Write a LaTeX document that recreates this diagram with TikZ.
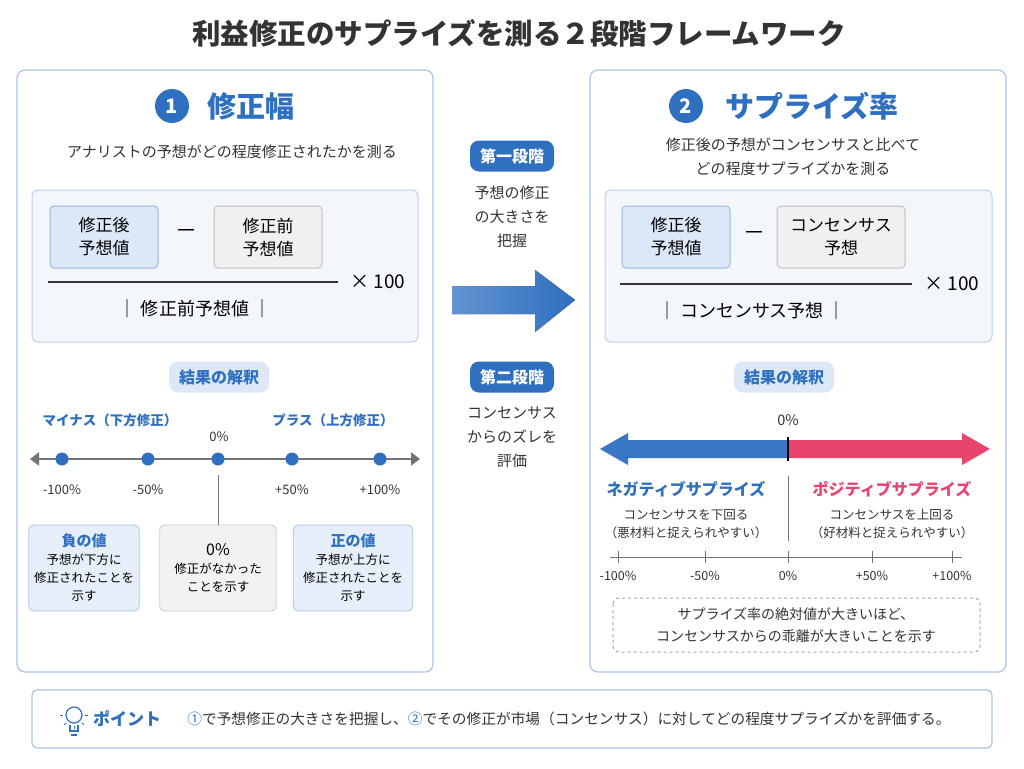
\documentclass[tikz,border=0pt]{standalone}
\usepackage{fontspec}
\setmainfont{Noto Sans CJK JP}
\usetikzlibrary{positioning,shapes,arrows.meta,calc}
\definecolor{MainBlue}{HTML}{2F6FC0}
\definecolor{PanelLine}{HTML}{A9C4E8}
\definecolor{LightBlue}{HTML}{DCE8F7}
\definecolor{PaleBlue}{HTML}{F3F7FC}
\definecolor{PinkRed}{HTML}{E8456E}
\definecolor{TextGray}{HTML}{333333}
\tikzstyle{PanelNode}=[rectangle, rounded corners=8pt, draw=PanelLine, line width=1.2pt, fill=white]
\tikzstyle{FormulaNode}=[rectangle, rounded corners=6pt, draw=PanelLine!80, line width=1pt, fill=PaleBlue]
\tikzstyle{TermBlue}=[rectangle, rounded corners=4pt, draw=MainBlue!50, line width=1pt, fill=LightBlue, minimum width=108pt, minimum height=62pt, align=center, font=\fontsize{17}{23}\selectfont]
\tikzstyle{TermGray}=[rectangle, rounded corners=4pt, draw=gray!50, line width=1pt, fill=gray!12, minimum width=108pt, minimum height=62pt, align=center, font=\fontsize{17}{23}\selectfont]
\tikzstyle{PillNode}=[rectangle, rounded corners=9pt, fill=LightBlue, text=MainBlue, font=\bfseries\fontsize{16}{18}\selectfont, inner xsep=10pt, minimum height=31pt]
\tikzstyle{StageNode}=[rectangle, rounded corners=9pt, fill=MainBlue, text=white, font=\bfseries\fontsize{16}{18}\selectfont, inner xsep=10pt, minimum height=31pt]
\tikzstyle{NoteNode}=[rectangle, rounded corners=5pt, draw=PanelLine, line width=0.8pt, fill=LightBlue!70, align=center, text width=104pt, minimum height=86pt, font=\fontsize{12.5}{18}\selectfont]
\tikzstyle{NumNode}=[circle, fill=MainBlue, text=white, font=\bfseries\fontsize{20}{22}\selectfont, minimum size=34pt, inner sep=0pt]
\tikzstyle{AxisLabel}=[font=\fontsize{13}{15}\selectfont, text=TextGray]
\tikzstyle{BodyText}=[font=\fontsize{15}{24}\selectfont, text=TextGray, align=center]
\begin{document}
\begin{tikzpicture}[x=1pt, y=-1pt]
    \useasboundingbox (0,0) rectangle (1024,768);
    \fill[white] (0,0) rectangle (1024,768);

    \node (Title) at (519,33) [font=\bfseries\fontsize{28.5}{32}\selectfont, text=TextGray] {利益修正のサプライズを測る２段階フレームワーク};

    % left panel
    \draw[PanelNode] (17,70) rectangle (433,672);
    \node (NumOne) at (172,106) [NumNode] {1};
    \node (LeftHead) at (251,106) [font=\bfseries\fontsize{29}{32}\selectfont, text=MainBlue] {修正幅};
    \node (LeftSub) at (232,152) [BodyText] {アナリストの予想がどの程度修正されたかを測る};
    \draw[FormulaNode] (32,190) rectangle (418,342);
    \node (LeftAfter) at (104,237) [TermBlue] {修正後\\予想値};
    \node (LeftMinus) at (186,234) [font=\fontsize{22}{22}\selectfont] {－};
    \node (LeftBefore) at (268,237) [TermGray] {修正前\\予想値};
    \coordinate (LeftBarL) at (48,282);
    \coordinate (LeftBarR) at (338,282);
    \draw[line width=1.2pt, TextGray] (LeftBarL) -- (LeftBarR);
    \node (LeftTimes) at (378,282) [font=\fontsize{19}{22}\selectfont] {× 100};
    \node (LeftDen) at (195,309) [font=\fontsize{18}{22}\selectfont] {｜ 修正前予想値 ｜};

    \node (LeftPill) at (219,377) [PillNode] {結果の解釈};
    \node (Minus) at (110,420) [font=\bfseries\fontsize{13.5}{15}\selectfont, text=MainBlue] {マイナス（下方修正）};
    \node (Plus) at (333,420) [font=\bfseries\fontsize{13.5}{15}\selectfont, text=MainBlue] {プラス（上方修正）};
    \node (LeftZero) at (219,437) [AxisLabel] {0\%};
    \coordinate (AxisL) at (30,459);
    \coordinate (AxisR) at (420,459);
    \draw[gray!90!black, line width=2.5pt, {Triangle[length=9pt,width=13pt]}-{Triangle[length=9pt,width=13pt]}] (AxisL) -- (AxisR);
    \foreach \x/\lab [count=\i] in {62/-100\%,148/-50\%,218/,292/+50\%,380/+100\%}{
        \fill[MainBlue] (\x,459) circle (6.5pt);
        \node (Tick\i) at (\x,490) [AxisLabel] {\lab};
    }
    \node (NoteNeg) at (84,568) [NoteNode] {{\bfseries\color{MainBlue}\fontsize{15}{19}\selectfont 負の値}\\予想が下方に\\修正されたことを\\示す};
    \node (NoteZero) at (218,568) [NoteNode, fill=gray!10, draw=gray!40, text width=110pt] {{\fontsize{16}{19}\selectfont 0\%}\\修正がなかった\\ことを示す};
    \node (NotePos) at (353,568) [NoteNode, text width=113pt] {{\bfseries\color{MainBlue}\fontsize{15}{19}\selectfont 正の値}\\予想が上方に\\修正されたことを\\示す};
    \draw[gray!90!black, line width=1pt] (218,475) -- (NoteZero.north);

    % middle
    \node (StageOne) at (512,156) [StageNode] {第一段階};
    \node (StageOneText) at (512,217) [BodyText] {予想の修正\\の大きさを\\把握};
    \fill[left color=MainBlue!75, right color=MainBlue] (452,286) -- (535,286) -- (535,270) -- (575,300) -- (535,332) -- (535,314) -- (452,314) -- cycle;
    \node (StageTwo) at (512,377) [StageNode] {第二段階};
    \node (StageTwoText) at (512,437) [BodyText] {コンセンサス\\からのズレを\\評価};

    % right panel
    \draw[PanelNode] (590,70) rectangle (1006,672);
    \node (NumTwo) at (686,106) [NumNode] {2};
    \node (RightHead) at (812,106) [font=\bfseries\fontsize{29}{32}\selectfont, text=MainBlue] {サプライズ率};
    \node (RightSub) at (793,157) [BodyText] {修正後の予想がコンセンサスと比べて\\どの程度サプライズかを測る};
    \draw[FormulaNode] (605,190) rectangle (992,342);
    \node (RightAfter) at (676,237) [TermBlue] {修正後\\予想値};
    \node (RightMinus) at (754,236) [font=\fontsize{22}{22}\selectfont] {－};
    \node (RightCons) at (841,237) [TermGray, minimum width=128pt] {コンセンサス\\予想};
    \draw[line width=1.2pt, TextGray] (620,284) -- (912,284);
    \node (RightTimes) at (952,284) [font=\fontsize{19}{22}\selectfont] {× 100};
    \node (RightDen) at (752,311) [font=\fontsize{18}{22}\selectfont] {｜ コンセンサス予想 ｜};

    \node (RightPill) at (784,377) [PillNode] {結果の解釈};
    \node (RightZero) at (788,420) [AxisLabel, font=\fontsize{14.5}{16}\selectfont] {0\%};
    \fill[MainBlue!95] (788,440) -- (628,440) -- (628,433) -- (600,449) -- (628,465) -- (628,458) -- (788,458) -- cycle;
    \fill[PinkRed] (788,440) -- (962,440) -- (962,433) -- (990,449) -- (962,465) -- (962,458) -- (788,458) -- cycle;
    \draw[black, line width=2pt] (788,437) -- (788,461);
    \draw[gray!90!black, line width=1pt] (788,476) -- (788,541);
    \node (Neg) at (686,489) [font=\bfseries\fontsize{16}{18}\selectfont, text=MainBlue] {ネガティブサプライズ};
    \node (Pos) at (892,489) [font=\bfseries\fontsize{16}{18}\selectfont, text=PinkRed] {ポジティブサプライズ};
    \node (NegText) at (686,524) [font=\fontsize{12.5}{18}\selectfont, text=TextGray, align=center] {コンセンサスを下回る\\（悪材料と捉えられやすい）};
    \node (PosText) at (892,524) [font=\fontsize{12.5}{18}\selectfont, text=TextGray, align=center] {コンセンサスを上回る\\（好材料と捉えられやすい）};
    \draw[gray!90!black, line width=1pt] (610,557) -- (962,557);
    \foreach \x/\lab [count=\i] in {618/-100\%,705/-50\%,788/0\%,872/+50\%,952/+100\%}{
        \draw[gray!90!black, line width=1pt] (\x,551) -- (\x,563);
        \node (RTick\i) at (\x,576) [AxisLabel, font=\fontsize{12.5}{15}\selectfont] {\lab};
    }
    \draw[gray!70, dashed, line width=1pt, rounded corners=6pt] (613,598) rectangle (980,652);
    \node (RightNote) at (796,625) [font=\fontsize{14}{22}\selectfont, text=TextGray, align=center] {サプライズ率の絶対値が大きいほど、\\コンセンサスからの乖離が大きいことを示す};

    % bottom point bar
    \draw[PanelNode, rounded corners=5pt] (32,690) rectangle (992,748);
    \draw[MainBlue, line width=1.2pt] (74,715) circle (8pt);
    \draw[MainBlue, line width=1.2pt] (70,725) -- (70,731) -- (78,731) -- (78,725);
    \draw[MainBlue, line width=1.2pt] (71,735) -- (77,735);
    \foreach \a in {90,135,45,180,0}{
        \draw[MainBlue, line width=1pt] ($(74,715)+(\a:-11pt)$) -- ($(74,715)+(\a:-14pt)$);
    }
    \node (PointHead) at (127,719) [font=\bfseries\fontsize{17}{19}\selectfont, text=MainBlue] {ポイント};
    \node (PointText) at (569,719) [font=\fontsize{14.7}{18}\selectfont, text=TextGray] {{\color{MainBlue}①}で予想修正の大きさを把握し、{\color{MainBlue}②}でその修正が市場（コンセンサス）に対してどの程度サプライズかを評価する。};

\end{tikzpicture}
\end{document}
